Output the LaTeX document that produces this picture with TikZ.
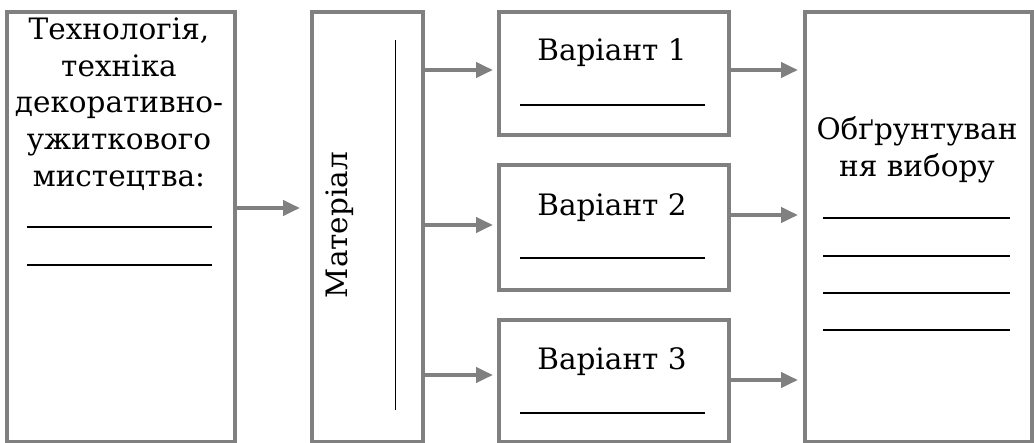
\documentclass[tikz,border=0pt]{standalone}
\usepackage{fontspec}
\setmainfont{DejaVu Serif}
\usetikzlibrary{arrows.meta}
\definecolor{boxgray}{RGB}{128,128,128}
\begin{document}
\begin{tikzpicture}[x=1pt,y=-1pt,
  box/.style={draw=boxgray,line width=4pt,inner sep=0pt,anchor=north west},
  conn/.style={draw=boxgray,line width=4pt,-{Triangle[length=17pt,width=15pt]}},
  blank/.style={draw=black,line width=1.1pt},
  lbl/.style={font=\fontsize{29.5}{36.8}\selectfont,align=center,inner sep=0pt}]
\useasboundingbox (0,0) rectangle (1034,443);
% boxes
\node[box,minimum width=228pt,minimum height=430pt] (tech) at (5,10) {};
\node[box,minimum width=111pt,minimum height=430pt] (mat) at (310,10) {};
\node[box,minimum width=230pt,minimum height=123pt] (v1) at (497,10) {};
\node[box,minimum width=230pt,minimum height=125pt] (v2) at (497,163) {};
\node[box,minimum width=230pt,minimum height=122pt] (v3) at (497,318) {};
\node[box,minimum width=227pt,minimum height=430pt] (res) at (803,10) {};
% texts
\node[lbl] (techtxt) at (119,104) {Технологія,\\техніка\\декоративно-\\ужиткового\\мистецтва:};
\node[lbl,rotate=90] (mattxt) at (340,225) {Матеріал};
\node[lbl] (v1txt) at (612,53) {Варіант 1};
\node[lbl] (v2txt) at (612,208) {Варіант 2};
\node[lbl] (v3txt) at (612,362) {Варіант 3};
\node[lbl] (restxt) at (917,150) {Обґрунтуван\\ня вибору};
% blanks
\coordinate (tb1a) at (27,227); \coordinate (tb1b) at (212,227);
\coordinate (tb2a) at (27,265); \coordinate (tb2b) at (212,265);
\draw[blank] (tb1a) -- (tb1b);
\draw[blank] (tb2a) -- (tb2b);
\coordinate (mla) at (395,40); \coordinate (mlb) at (395,410);
\draw[draw=black,line width=1pt] (mla) -- (mlb);
\coordinate (v1a) at (520,105); \coordinate (v1b) at (705,105);
\coordinate (v2a) at (520,258); \coordinate (v2b) at (705,258);
\coordinate (v3a) at (520,413); \coordinate (v3b) at (705,413);
\draw[blank] (v1a) -- (v1b);
\draw[blank] (v2a) -- (v2b);
\draw[blank] (v3a) -- (v3b);
\foreach \yy [count=\i] in {218,256,293,330}{
  \coordinate (ra\i) at (823,\yy); \coordinate (rb\i) at (1010,\yy);
  \draw[blank] (ra\i) -- (rb\i);
}
% connectors
\coordinate (a0) at (233,208); \coordinate (b0) at (300,208);
\draw[conn] (a0) -- (b0);
\foreach \yy [count=\i] in {70,225,375}{
  \coordinate (ma\i) at (425,\yy); \coordinate (mb\i) at (493,\yy);
  \draw[conn] (ma\i) -- (mb\i);
}
\foreach \yy [count=\i] in {70,215,380}{
  \coordinate (va\i) at (729,\yy); \coordinate (vb\i) at (798,\yy);
  \draw[conn] (va\i) -- (vb\i);
}
\end{tikzpicture}
\end{document}
